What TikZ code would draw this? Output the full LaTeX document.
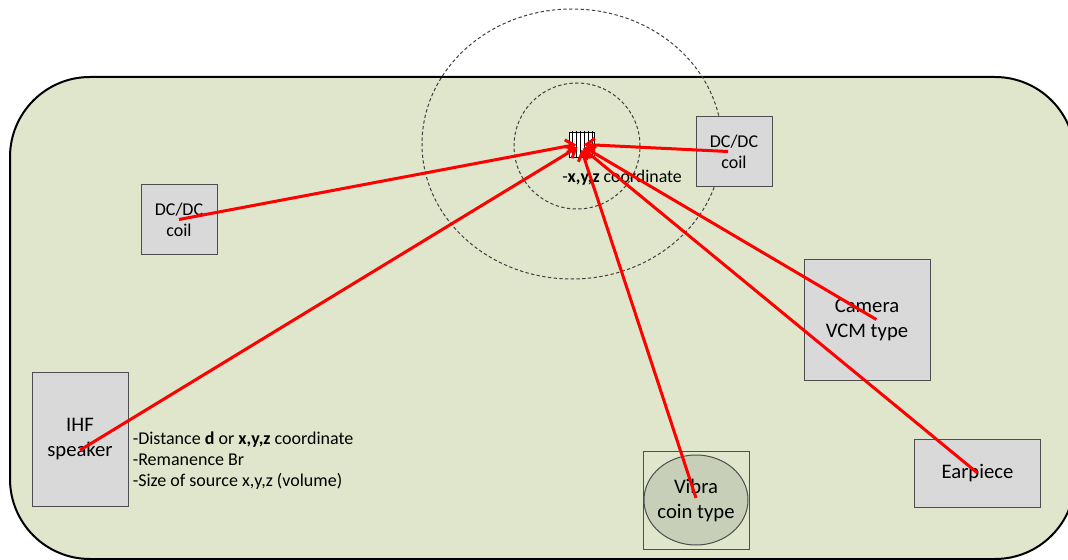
\documentclass[tikz,border=0pt]{standalone}
\usepackage{fontspec}
\setmainfont{Carlito}
\usetikzlibrary{shapes.geometric, arrows.meta, patterns, positioning}
\usepackage{xcolor}
\definecolor{boardgreen}{HTML}{DFE6CB}
\definecolor{partgray}{HTML}{D9D9D9}
\definecolor{partedge}{HTML}{4D4D4D}
\definecolor{vibragray}{HTML}{C8CFB9}
\definecolor{fieldgray}{HTML}{404040}
\tikzstyle{board} = [draw=black, fill=boardgreen, line width=1.5pt, rounded corners=60pt]
\tikzstyle{part} = [rectangle, draw=partedge, fill=partgray, line width=0.75pt, align=center, inner sep=0pt, font=\fontsize{15.5}{18.75}\selectfont]
\tikzstyle{coil} = [part, minimum width=57pt, minimum height=52.5pt, font=\fontsize{13.5}{15.75}\selectfont]
\tikzstyle{field} = [draw=fieldgray, line width=0.75pt, dash pattern=on 2.5pt off 1.8pt]
\tikzstyle{arrow} = [draw=red, line width=2.25pt, -{Straight Barb[length=6pt,width=10pt]}]

\begin{document}
\begin{tikzpicture}[x=0.75pt, y=-0.75pt]

    \clip (0,0) rectangle (1068,560);
    \draw [board] (10,77) rectangle (1075,559);

    % field lines round the probe
    \draw [field] (572,144) ellipse [x radius=112.5pt, y radius=101.25pt];
    \draw [field] (577,146) circle [radius=47.25pt];

    \node (coilL) [coil] at (179,219.5) {DC/DC\\coil};
    \node (coilR) [coil] at (734,151.5) {DC/DC\\coil};
    \node (camera) [part, minimum width=94.5pt, minimum height=90.75pt] at (867,319.5) {Camera\\VCM type};
    \node (ihf) [part, minimum width=72pt, minimum height=101pt] at (80,439.5) {IHF\\speaker};
    \node (earpiece) [part, minimum width=95pt, minimum height=51pt] at (977.5,473) {Earpiece};
    \node (vibrabox) [rectangle, draw=partedge, line width=0.75pt, minimum width=79.5pt, minimum height=73.5pt] at (696,500) {};
    \node (vibra) [ellipse, draw=partedge, fill=vibragray, line width=0.75pt, inner sep=0pt, minimum width=78pt, minimum height=67.5pt] at (vibrabox) {};
    \node (vibratext) [align=center, font=\fontsize{15.5}{18.75}\selectfont] at (vibra) {Vibra\\coin type};

    \node (probe) [rectangle, draw=black, line width=0.6pt, fill=white, inner sep=0pt, minimum size=18.75pt, postaction={pattern=vertical lines}] at (581.5,144.5) {};
    \node (probelbl) [anchor=west, inner sep=0pt, font=\fontsize{13.4}{15}\selectfont] at (562,178) {-\textbf{x,y,z} coordinate};

    \node (notes) [right=3pt of ihf, yshift=-16pt, align=left, inner sep=0pt, font=\fontsize{13.5}{15.75}\selectfont] {-Distance \textbf{d} or \textbf{x,y,z} coordinate\\-Remanence Br\\-Size of source x,y,z (volume)};

    \draw [arrow] (coilL.center) -- ([xshift=-4pt]probe.center);
    \draw [arrow] ([yshift=-8pt]ihf.center) -- ([xshift=-3pt,yshift=-2pt]probe.center);
    \draw [arrow] ([xshift=-4.5pt]coilR.center) -- ([xshift=2pt]probe.center);
    \draw [arrow] ([xshift=7pt]camera.center) -- ([xshift=2pt,yshift=-2pt]probe.center);
    \draw [arrow] (earpiece.center) -- ([xshift=1pt,yshift=-3pt]probe.center);
    \draw [arrow] ([yshift=1.5pt]vibra.center) -- ([yshift=-4pt]probe.center);
    \end{tikzpicture}
\end{document}
